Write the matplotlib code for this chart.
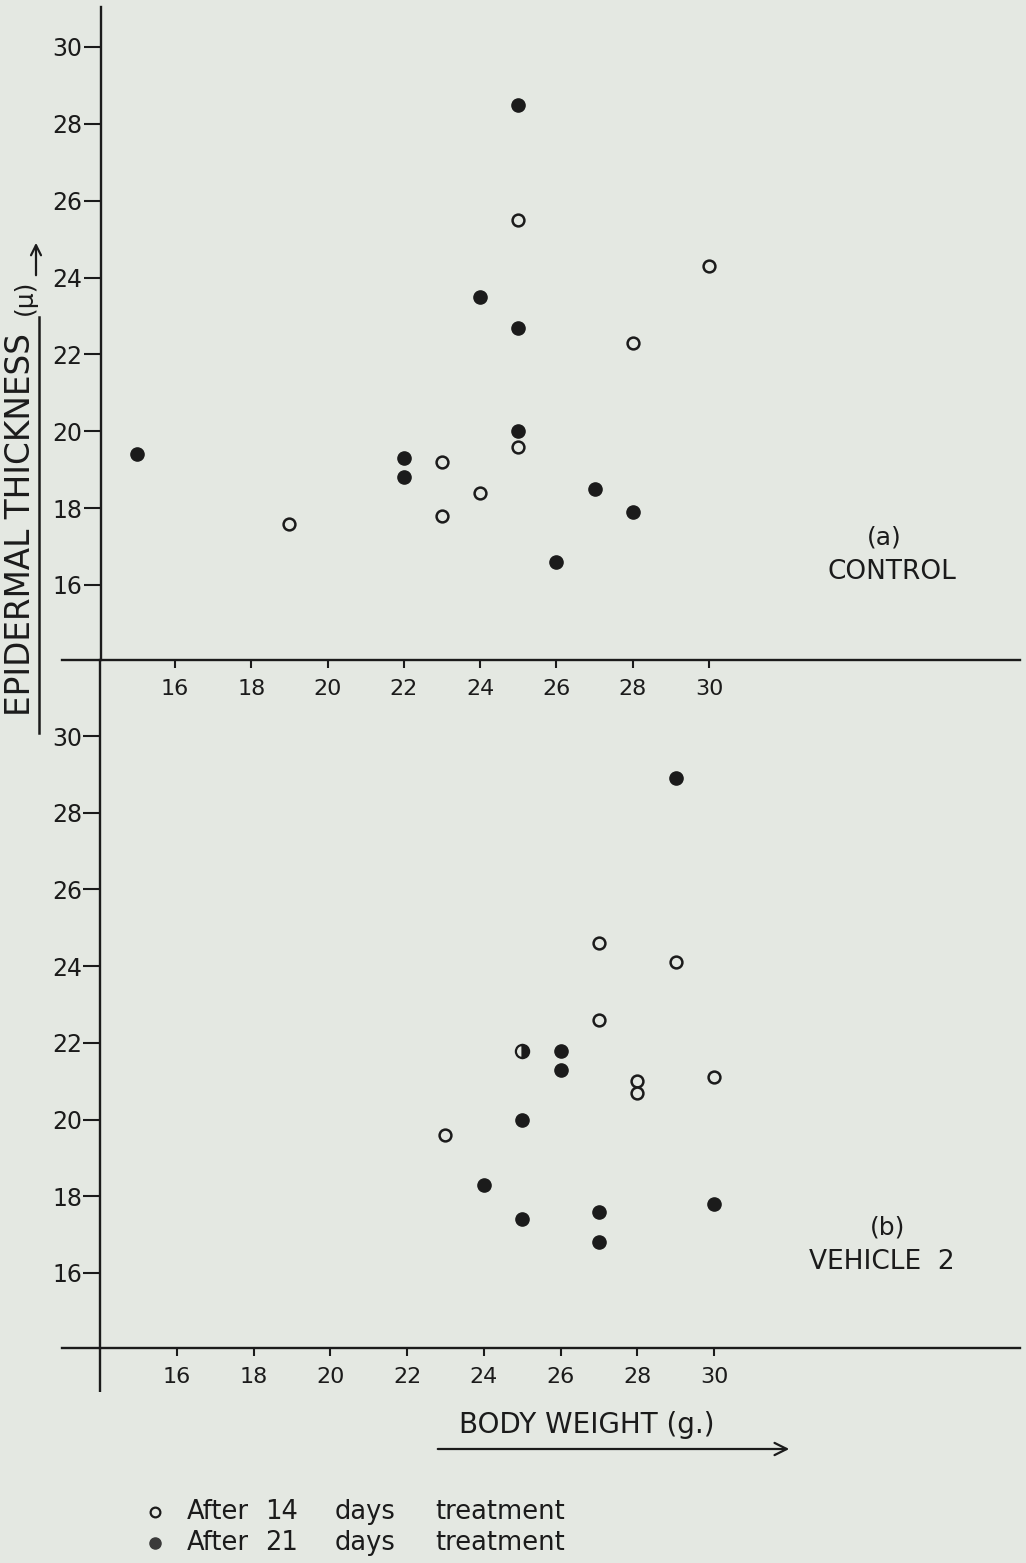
import matplotlib
matplotlib.use("Agg")
import matplotlib.pyplot as plt
from matplotlib.lines import Line2D

# (a) Control
a_day14_weight = [25, 30, 28, 25, 23, 23, 24, 19]
a_day14_thick = [25.5, 24.3, 22.3, 19.6, 19.2, 17.8, 18.4, 17.6]
a_day21_weight = [15, 25, 24, 25, 25, 22, 22, 27, 28, 26]
a_day21_thick = [19.4, 28.5, 23.5, 22.7, 20.0, 19.3, 18.8, 18.5, 17.9, 16.6]

# (b) Vehicle 2
b_day14_weight = [27, 29, 27, 28, 28, 30, 23]
b_day14_thick = [24.6, 24.1, 22.6, 21.0, 20.7, 21.1, 19.6]
b_day21_weight = [29, 25, 24, 25, 27, 27, 30, 26, 26]
b_day21_thick = [28.9, 20.0, 18.3, 17.4, 17.6, 16.8, 17.8, 21.8, 21.3]
# coincident day-14 / day-21 reading, drawn half filled
b_both_weight = [25]
b_both_thick = [21.8]

weight_ticks = [16, 18, 20, 22, 24, 26, 28, 30]
thick_ticks = [16, 18, 20, 22, 24, 26, 28, 30]

W, H = 1026, 1563
PAPER = "#e4e8e2"
INK = "#1b1b1b"

plt.rcParams["font.family"] = ["DejaVu Sans"]

fig = plt.figure(figsize=(W / 100, H / 100), dpi=100)
fig.patch.set_facecolor(PAPER)


def lin(p, p0, v0, p1, v1):
    return v0 + (p - p0) * (v1 - v0) / (p1 - p0)


def fx(px):
    return px / W


def fy(py):
    return 1 - py / H


def make_panel(top, bottom, xcal, ycal):
    ax = fig.add_axes([fx(62), fy(bottom), (1020 - 62) / W, (bottom - top) / H])
    ax.set_facecolor("none")
    ax.set_xlim(lin(62, *xcal), lin(1020, *xcal))
    ax.set_ylim(lin(bottom, *ycal), lin(top, *ycal))
    for s in ("top", "right"):
        ax.spines[s].set_visible(False)
    ax.spines["left"].set_position(("data", lin(100.5, *xcal)))
    for s in ("left", "bottom"):
        ax.spines[s].set_linewidth(1.7)
        ax.spines[s].set_color(INK)
    ax.set_xticks(weight_ticks)
    ax.set_xticklabels([str(t) for t in weight_ticks])
    ax.set_yticks(thick_ticks)
    ax.set_yticklabels([str(t) for t in thick_ticks])
    ax.tick_params(axis="x", direction="out", length=6, width=1.5, pad=8,
                   labelsize=16, colors=INK)
    ax.tick_params(axis="y", direction="out", length=12, width=1.5, pad=1,
                   labelsize=17, colors=INK)
    return ax


def scatter(ax, xs, ys, filled):
    if filled:
        ax.plot(xs, ys, ls="none", marker="o", ms=9.5, mfc=INK, mec=INK,
                mew=1.0, clip_on=False)
    else:
        ax.plot(xs, ys, ls="none", marker="o", ms=8.5, mfc=PAPER, mec=INK,
                mew=1.8, clip_on=False)


# top panel: control
ax1 = make_panel(7, 660, (175, 16, 709, 30), (585, 16, 47, 30))
scatter(ax1, a_day14_weight, a_day14_thick, False)
scatter(ax1, a_day21_weight, a_day21_thick, True)

# bottom panel: vehicle 2
xcal2 = (177, 16, 714, 30)
ycal2 = (1273, 16, 736, 30)
ax2 = make_panel(660, 1348, xcal2, ycal2)
scatter(ax2, b_day14_weight, b_day14_thick, False)
scatter(ax2, b_day21_weight, b_day21_thick, True)
ax2.plot(b_both_weight, b_both_thick, ls="none", marker="o", ms=9.5,
         fillstyle="right", mfc=INK, mfcalt=PAPER, mec=INK, mew=1.6,
         clip_on=False)
# vertical axis continues a little below the lower weight axis
xa = lin(100.5, *xcal2)
ax2.plot([xa, xa], [lin(1348, *ycal2), lin(1392, *ycal2)], color=INK,
         lw=1.7, clip_on=False, solid_capstyle="butt")

# panel captions
fig.text(fx(884), fy(537), "(a)", ha="center", va="center", fontsize=18, color=INK)
fig.text(fx(892), fy(572), "CONTROL", ha="center", va="center", fontsize=19, color=INK)
fig.text(fx(888), fy(1228), "(b)", ha="center", va="center", fontsize=18, color=INK)
fig.text(fx(882), fy(1262), "VEHICLE  2", ha="center", va="center", fontsize=19, color=INK)

# vertical axis title, underlined, with arrow
fig.text(fx(21), fy(525), "EPIDERMAL THICKNESS", rotation=90, ha="center",
         va="center", fontsize=23.5, color=INK)
fig.add_artist(Line2D([fx(39), fx(39)], [fy(733), fy(317)], color=INK, lw=1.8,
                      transform=fig.transFigure))
fig.text(fx(25), fy(297), "(\u03bc)", rotation=90, ha="center", va="center",
         fontsize=18, color=INK)
plt.annotate("", xy=(fx(36), fy(240)), xytext=(fx(36), fy(278)),
             xycoords="figure fraction",
             arrowprops=dict(arrowstyle="->", color=INK, lw=1.6,
                             mutation_scale=18))

# horizontal axis title with arrow
fig.text(fx(587), fy(1425), "BODY WEIGHT (g.)", ha="center", va="center",
         fontsize=20, color=INK)
plt.annotate("", xy=(fx(792), fy(1449)), xytext=(fx(435), fy(1449)),
             xycoords="figure fraction",
             arrowprops=dict(arrowstyle="->", color=INK, lw=1.6,
                             mutation_scale=22))

# key
fig.add_artist(Line2D([fx(155)], [fy(1512)], marker="o", ms=7, mfc=PAPER,
                      mec=INK, mew=1.6, transform=fig.transFigure))
fig.add_artist(Line2D([fx(155)], [fy(1543)], marker="o", ms=8, mfc="#3a3a3a",
                      mec="#3a3a3a", transform=fig.transFigure))
key_rows = [(1512, ["After", "14", "days", "treatment"]),
            (1543, ["After", "21", "days", "treatment"])]
word_x = [187, 265, 335, 435]
for py, words in key_rows:
    for wx, w in zip(word_x, words):
        fig.text(fx(wx), fy(py), w, ha="left", va="center", fontsize=18.5, color=INK)

fig.savefig("out.png", dpi=100, facecolor=PAPER)
